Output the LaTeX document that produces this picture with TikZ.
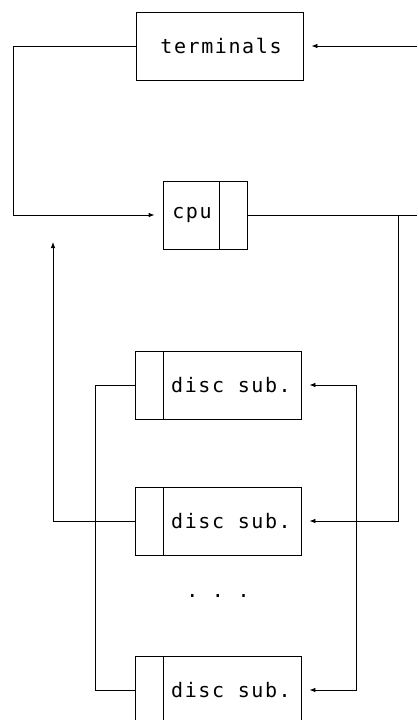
\documentclass[tikz,border=0pt]{standalone}
\usepackage{fontspec}
\newfontfamily\plotfont[LetterSpace=8]{DejaVu Sans Mono}
\usetikzlibrary{arrows.meta}
\begin{document}
\begin{tikzpicture}[x=1bp,y=-1bp,
  line width=0.8bp,
  box/.style={draw,rectangle,minimum height=68bp,inner sep=0pt},
  lbl/.style={font=\plotfont\fontsize{20bp}{24bp}\selectfont,inner sep=0pt},
  arr/.style={-{Latex[length=6bp,width=4.5bp]}}
]
\clip (0,0) rectangle (417,720);
\fill[white] (0,0) rectangle (417,720);
% boxes
\node[box,minimum width=167bp] (term) at (219.5,46) {};
\node[lbl] (termtxt) at (221,46) {terminals};
\node[box,minimum width=84bp] (cpu) at (205,215) {};
\draw (219,181) -- (219,249);
\node[lbl] (cputxt) at (192,215) {cpu};
\node[box,minimum width=166bp] (d1) at (218,385) {};
\node[box,minimum width=166bp] (d2) at (218,521) {};
\node[box,minimum width=166bp] (d3) at (218,690) {};
\foreach \n/\y in {d1/385,d2/521,d3/690}{
  \draw (163,\y-34) -- (163,\y+34);
  \node[lbl] (\n txt) at (231,\y) {disc sub.};
}
\node[lbl,anchor=base] (dots) at (218,597) {.\ .\ .};
% coordinates
\coordinate (tR) at (417,46);
\coordinate (cR) at (417,215);
\coordinate (up) at (53,242);
% connectors
\draw[arr] (term.west) -- (13,46) -- (13,215) -- ([xshift=-8bp]cpu.west);
\draw[arr] (tR) -- ([xshift=8bp]term.east);
\draw (cpu.east) -- (cR);
\draw[arr] (398,215) -- (398,521) -- ([xshift=8bp]d2.east);
\draw[arr] (d2.west) -- (53,521) -- (up);
\draw (d1.west) -- (95,385) -- (95,690) -- (d3.west);
\draw[arr] (356,385) -- ([xshift=8bp]d1.east);
\draw[arr] (356,385) -- (356,690) -- ([xshift=8bp]d3.east);
\end{tikzpicture}
\end{document}
